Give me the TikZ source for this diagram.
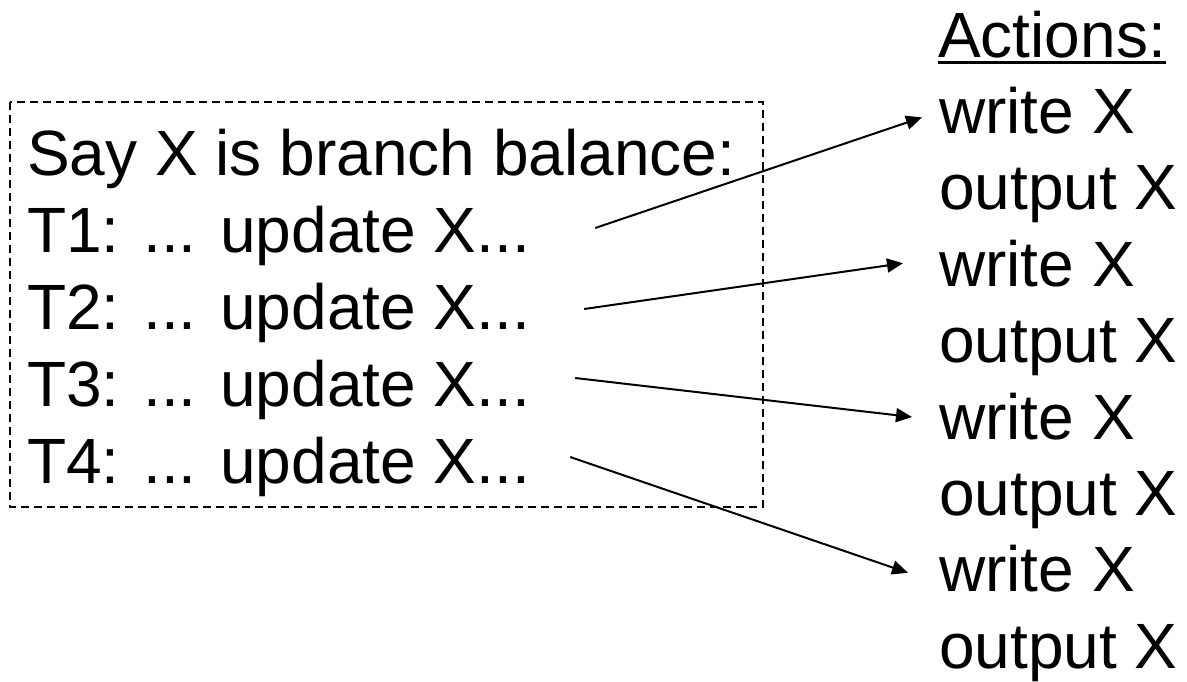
\documentclass[tikz,border=0pt]{standalone}
\usepackage{fontspec}
\setmainfont{Liberation Sans}
\usetikzlibrary{arrows.meta,positioning}

\begin{document}
\begin{tikzpicture}[
          x = 1pt, y = -1pt,
          txt/.style = {anchor=base west, inner sep=0pt,
                        font=\fontsize{64}{77}\selectfont},
          arr/.style = {draw, line width=2pt, -{Triangle[length=16pt,width=14pt]}},
          frame/.style = {draw, line width=2pt, dash pattern=on 8pt off 5pt},
        ]
          \useasboundingbox (0,0) rectangle (1187,681);
          \draw[frame] (10,102) rectangle (763,507);
          % left column
          \node[txt] (say) at (27,175) {Say X is branch balance:};
          \foreach \i in {1,...,4}
            \node[txt] (t\i) at (27,{175+77*\i}) {T\i: ... update X...};
          % right column
          \node[txt] (act) at (938,57) {Actions:};
          \draw[line width=3pt] ([yshift=-5pt]act.base west) -- ([yshift=-5pt]act.base east);
          \foreach \i in {1,...,4} {
            \node[txt] (w\i) at (939,{57+76.4*(2*\i-1)}) {write X};
            \node[txt] (o\i) at (939,{57+76.4*(2*\i)}) {output X};
          }
          % arrows
          \draw[arr] ([xshift=65pt,yshift=24pt]t1.base east) -- ([xshift=-17pt,yshift=16pt]w1.base west);
          \draw[arr] ([xshift=54pt,yshift=20pt]t2.base east) -- ([xshift=-36pt,yshift=23pt]w2.base west);
          \draw[arr] ([xshift=45pt,yshift=28pt]t3.base east) -- ([xshift=-27pt,yshift=22pt]w3.base west);
          \draw[arr] ([xshift=40pt,yshift=26pt]t4.base east) -- ([xshift=-31pt,yshift=19pt]w4.base west);
        \end{tikzpicture}
\end{document}
